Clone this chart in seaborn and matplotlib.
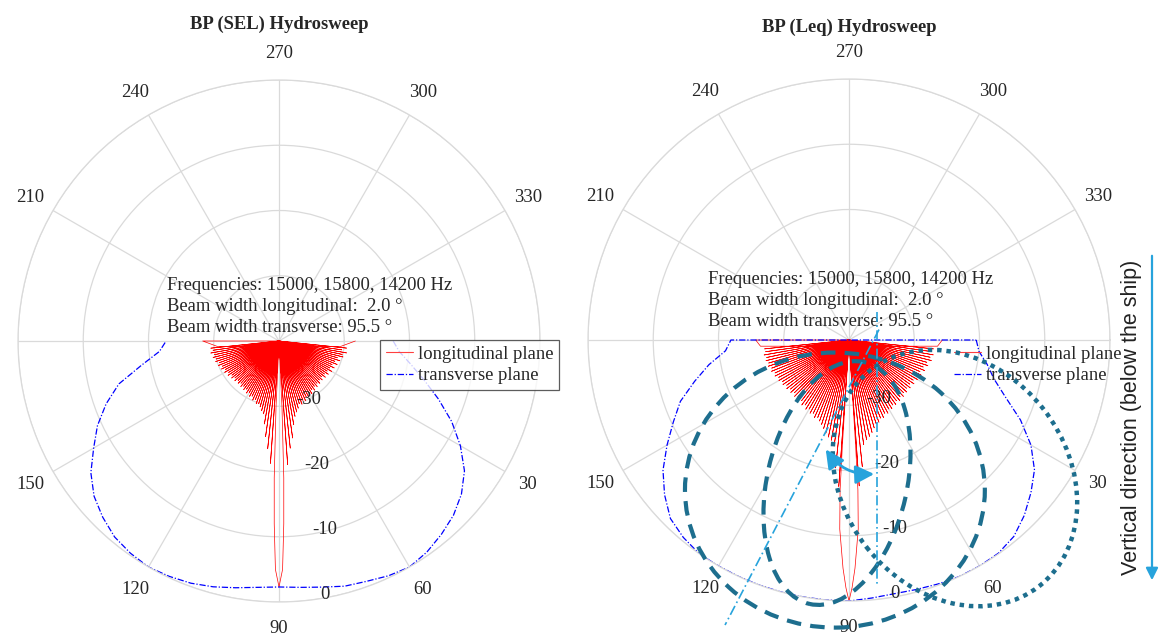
import numpy as np
import matplotlib
matplotlib.use('Agg')
import matplotlib.pyplot as plt
import matplotlib.transforms as mtransforms
from matplotlib.patches import Ellipse, FancyArrowPatch
from matplotlib.lines import Line2D
import seaborn as sns

# angles in degrees (0 = starboard side, 90 = straight down), levels in dB re max
trans_deg = [0, 5, 10, 15, 20, 25, 30, 35, 40, 45, 50, 55, 60, 65, 70, 75, 80, 85, 90,
             95, 100, 105, 110, 115, 120, 125, 130, 135, 140, 145, 150, 155, 160, 165, 170, 175, 180]
sel_trans_db = [-22.5, -21.5, -19.5, -17.0, -14.0, -10.8, -7.9, -5.3, -3.5, -2.2, -1.3, -0.5, 0.0,
                -0.3, -0.8, -1.1, -1.7, -2.1, -2.3, -2.1, -1.6, -1.0, -0.5, -0.2, 0.0, -0.3, -0.8,
                -1.8, -3.0, -4.8, -7.2, -9.3, -11.8, -14.6, -18.6, -21.6, -22.7]
leq_trans_db = [-20.5, -20.0, -18.5, -17.0, -14.5, -11.0, -7.8, -5.3, -3.6, -2.0, -0.7, -0.1, 0.0,
                0.0, -0.2, -0.4, -0.5, -0.3, 0.0, 0.0, 0.0, 0.0, 0.0, 0.0, 0.0, 0.0, -0.5,
                -1.3, -3.1, -5.2, -7.8, -10.3, -12.5, -15.5, -18.2, -21.0, -21.9]

# side lobes of the longitudinal plane
spike_deg = [6, 8, 10, 12, 14, 16, 18, 20, 22, 24, 26, 28, 30, 32, 34, 36, 38, 40, 42, 44, 46,
             48, 50, 52, 54, 56, 58, 60, 62, 64, 66, 68, 70, 72, 74, 76, 78, 80, 82, 84, 86,
             94, 96, 98, 100, 102, 104, 106, 108, 110, 112, 114, 116, 118, 120, 122, 124, 126,
             128, 130, 132, 134, 136, 138, 140, 142, 144, 146, 148, 150, 152, 154, 156, 158,
             160, 162, 164, 166, 168, 170, 172, 174]
sel_spike_db = [-29.6, -30.3, -29.5, -30.1, -29.9, -30.7, -30.2, -30.9, -30.4, -31.1, -30.6,
                -31.2, -30.7, -31.3, -30.9, -31.4, -31.0, -31.5, -31.1, -31.4, -31.0, -31.3,
                -30.9, -31.2, -30.7, -31.0, -30.5, -30.8, -30.3, -30.5, -30.0, -30.2, -29.7,
                -29.9, -29.3, -28.8, -28.2, -27.0, -25.0, -23.5, -21.0,
                -21.2, -23.4, -25.2, -27.1, -28.6, -29.0, -29.5, -29.9, -29.8, -30.3, -30.1,
                -30.6, -30.4, -30.9, -30.6, -31.1, -30.8, -31.2, -30.9, -31.3, -31.0, -31.3,
                -30.9, -31.2, -30.8, -31.1, -30.6, -30.9, -30.4, -30.7, -30.2, -30.5, -30.0,
                -30.3, -29.8, -30.0, -29.6, -29.9, -29.4, -29.8, -29.5]
leq_spike_db = [-27.0, -27.4, -26.9, -27.3, -27.0, -27.6, -27.3, -27.9, -27.5, -28.1, -27.7,
                -28.3, -27.9, -28.4, -28.0, -28.5, -28.1, -28.5, -28.1, -28.4, -28.0, -28.3,
                -27.9, -28.2, -27.8, -28.0, -27.6, -27.8, -27.3, -27.5, -27.0, -27.1, -26.6,
                -26.5, -26.0, -25.4, -24.9, -24.5, -23.8, -20.5, -17.6,
                -17.5, -20.3, -23.6, -24.4, -24.8, -25.3, -25.9, -26.4, -26.8, -27.2, -27.0,
                -27.5, -27.3, -27.8, -27.5, -28.0, -27.7, -28.2, -27.9, -28.3, -28.0, -28.4,
                -28.0, -28.3, -27.9, -28.2, -27.8, -28.0, -27.6, -27.8, -27.4, -27.6, -27.2,
                -27.4, -27.0, -27.2, -26.9, -27.1, -26.8, -27.1, -27.0]

# main lobe
sel_main_deg = [87.4, 88.0, 88.5, 89.1, 90.0, 90.9, 91.5, 92.0, 92.6]
sel_main_db = [-30.0, -19.0, -12.0, -5.0, -2.3, -5.0, -12.0, -19.0, -30.0]
leq_main_deg = [86.4, 86.6, 87.2, 88.5, 89.3, 90.0, 90.7, 91.5, 92.8, 93.4, 93.6]
leq_main_db = [-24.0, -17.0, -11.0, -5.0, -2.0, 0.0, -2.0, -5.0, -11.0, -17.0, -24.0]

# near-horizontal part of the longitudinal curve
sel_edge_deg = [0, 5, 175, 180]
sel_edge_db = [-28.3, -30.5, -30.5, -28.3]
leq_edge_deg = [0, 4, 176, 180]
leq_edge_db = [-25.7, -26.4, -26.4, -25.7]

ring_db = [-30, -20, -10, 0]
angle_ticks = [0, 30, 60, 90, 120, 150, 180, 210, 240, 270, 300, 330]
angle_labels = ['', '30', '60', '90', '120', '150', '', '210', '240', '270', '300', '330']
info_lines = ['Frequencies: 15000, 15800, 14200 Hz',
              'Beam width longitudinal:  2.0 \u00b0',
              'Beam width transverse: 95.5 \u00b0']

R_MIN = -40

sns.set_theme(style='white')
plt.rcParams['font.family'] = ['Liberation Serif', 'DejaVu Serif']
plt.rcParams['font.size'] = 13.4

fig = plt.figure(figsize=(11.59, 6.40), dpi=100)
W, H = 1159, 640


def px_rect(cx, cy, rad):
    return [(cx - rad) / W, (H - cy - rad) / H, 2 * rad / W, 2 * rad / H]


def longitudinal(edge_deg, edge_db, spike_db, main_deg, main_db):
    th = list(edge_deg) + [180]
    rr = list(edge_db) + [R_MIN]
    for a, lvl in zip(spike_deg, spike_db):
        th += [a, a]
        rr += [lvl, R_MIN]
    th += list(main_deg) + [90]
    rr += list(main_db) + [R_MIN]
    return np.deg2rad(th), np.array(rr)


def beam_panel(rect, trans_db, spike_db, edge, main, close_chord):
    ax = fig.add_axes(rect, projection='polar')
    ax.set_theta_zero_location('E')
    ax.set_theta_direction(-1)

    th, rr = longitudinal(edge[0], edge[1], spike_db, main[0], main[1])
    sns.lineplot(x=th, y=rr, sort=False, estimator=None, ax=ax, color='red', lw=0.5)

    td = list(trans_deg)
    tv = list(trans_db)
    if close_chord:
        td.append(trans_deg[0])
        tv.append(trans_db[0])
    sns.lineplot(x=np.deg2rad(td), y=tv, sort=False, estimator=None, ax=ax,
                 color='blue', lw=0.9, linestyle=(0, (5, 1.5, 1, 1.5)))

    ax.set_rlim(R_MIN, 0)
    ax.set_rticks(ring_db)
    ax.set_yticklabels([])
    ax.set_thetagrids(angle_ticks, angle_labels)
    ax.tick_params(axis='x', pad=6, labelsize=13.4)
    ax.grid(True, color='#dadada', lw=0.9)
    ax.spines['polar'].set_color('#dadada')
    ax.spines['polar'].set_linewidth(0.9)
    ax.set_xlabel('')
    ax.set_ylabel('')
    if ax.get_legend() is not None:
        ax.get_legend().remove()

    off = mtransforms.offset_copy(ax.transData, fig=fig, x=9, y=6, units='dots')
    for v in ring_db:
        ax.text(np.deg2rad(83), v, f'{v}', transform=off, ha='left', va='center',
                fontsize=13.4)
    return ax


ax1 = beam_panel(px_rect(279, 341, 261), sel_trans_db, sel_spike_db,
                 (sel_edge_deg, sel_edge_db), (sel_main_deg, sel_main_db), False)
ax2 = beam_panel(px_rect(849, 340, 261), leq_trans_db, leq_spike_db,
                 (leq_edge_deg, leq_edge_db), (leq_main_deg, leq_main_db), True)

fig.text(279 / W, 1 - 24 / H, 'BP (SEL) Hydrosweep', ha='center', va='center',
         fontweight='bold', fontsize=13.4)
fig.text(849 / W, 1 - 27 / H, 'BP (Leq) Hydrosweep', ha='center', va='center',
         fontweight='bold', fontsize=13.4)

for i, line in enumerate(info_lines):
    fig.text(167 / W, 1 - (285 + 21.5 * i) / H, line, ha='left', va='center', fontsize=13.4)
    fig.text(708 / W, 1 - (279 + 21.5 * i) / H, line, ha='left', va='center', fontsize=13.4)

handles = [Line2D([], [], color='#ff4040', lw=0.8),
           Line2D([], [], color='blue', lw=0.9, ls=(0, (5, 1.5, 1, 1.5)))]
leg_labels = ['longitudinal plane', 'transverse plane']
leg_kw = dict(loc='upper left', bbox_transform=fig.transFigure, fontsize=13.4,
              handlelength=1.45, handletextpad=0.3, borderpad=0.3, labelspacing=0.25,
              borderaxespad=0, fancybox=False)
lg1 = ax1.legend(handles, leg_labels, bbox_to_anchor=(380 / W, 1 - 340 / H),
                 frameon=True, **leg_kw)
lg1.get_frame().set_edgecolor('#333333')
lg1.get_frame().set_linewidth(0.9)
ax2.legend(handles, leg_labels, bbox_to_anchor=(948 / W, 1 - 340 / H), frameon=False, **leg_kw)

# sketch overlay on the Leq panel (units of the outer ring radius)
teal = '#1d6e8e'
sky = '#27a3dc'
big_beam = dict(xy=(-0.054, -0.575), width=1.149, height=1.054, angle=0)
narrow_beam = dict(xy=(-0.046, -0.548), width=0.536, height=0.950, angle=-12.8)
tilted_beam = dict(xy=(0.406, -0.529), width=1.05, height=0.86, angle=-52)
vert_axis = ([0.107, 0.107], [0.107, -0.939])
tilt_axis = ([0.115, -0.475], [0.040, -1.092])
tilt_arc = ((-0.095, -0.410), (0.107, -0.513))

ov = fig.add_axes(px_rect(849, 340, 261), zorder=5)
ov.set_xlim(-1, 1)
ov.set_ylim(-1, 1)
ov.axis('off')
ov.patch.set_alpha(0)
ov.add_patch(Ellipse(fill=False, ec=teal, lw=3.0, ls=(0, (3.5, 2.2)), clip_on=False, **big_beam))
ov.add_patch(Ellipse(fill=False, ec=teal, lw=3.0, ls=(0, (3.5, 2.2)), clip_on=False, **narrow_beam))
ov.add_patch(Ellipse(fill=False, ec=teal, lw=3.2, ls=(0, (1, 1.1)), clip_on=False, **tilted_beam))
ov.plot(*vert_axis, color=sky, lw=1.2, ls=(0, (6, 2, 1, 2)), clip_on=False)
ov.plot(*tilt_axis, color=sky, lw=1.2, ls=(0, (6, 2, 1, 2)), clip_on=False)
ov.add_patch(FancyArrowPatch(tilt_arc[0], tilt_arc[1], arrowstyle='<|-|>',
                             connectionstyle='arc3,rad=0.3', color=sky, lw=2,
                             mutation_scale=28, clip_on=False))

fig.add_artist(FancyArrowPatch((1152 / W, 1 - 253 / H), (1152 / W, 1 - 583 / H),
                               transform=fig.transFigure, arrowstyle='-|>', color=sky,
                               lw=1.6, mutation_scale=18))
fig.text(1132 / W, 1 - 417 / H, 'Vertical direction (below the ship)', rotation=90,
         ha='center', va='center', fontsize=15.5, color='#222222',
         family=['Liberation Sans', 'DejaVu Sans'])

fig.savefig('out.png', dpi=100)
